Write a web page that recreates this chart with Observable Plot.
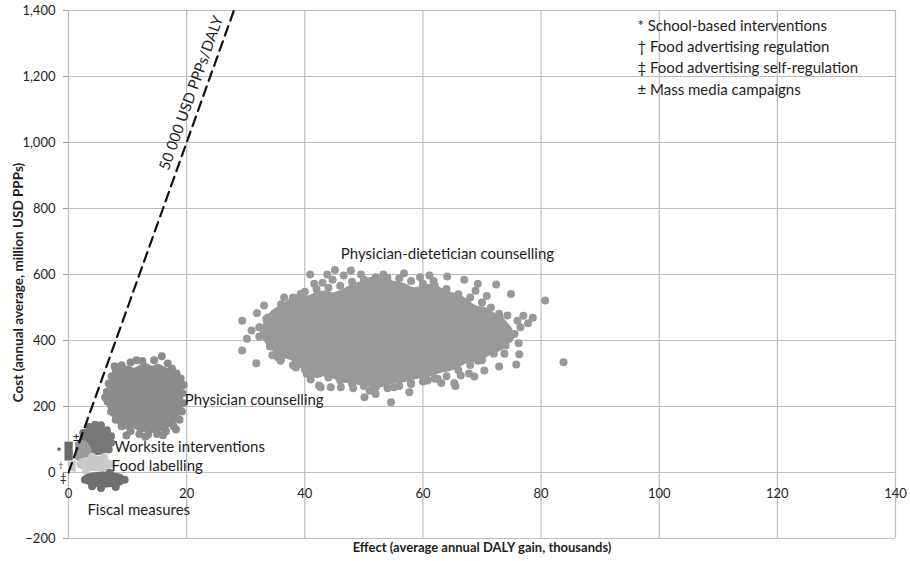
<!DOCTYPE html>
<html>
<head>
<meta charset="utf-8">
<script src="https://cdn.jsdelivr.net/npm/d3@7"></script>
<script src="https://cdn.jsdelivr.net/npm/@observablehq/plot@0.6"></script>
<style>
  html, body { margin: 0; padding: 0; background: #fff; }
  #chart { width: 910px; height: 561px; }
</style>
</head>
<body>
<div id="chart"></div>
<script>
// Axis ticks
const xTicks = [0, 20, 40, 60, 80, 100, 120, 140];
const yTicks = [-200, 0, 200, 400, 600, 800, 1000, 1200, 1400];

// Cost-effectiveness threshold: 50 000 USD PPPs per DALY
const thresholdEffect = [0, 28];
const thresholdCost = [0, 1400];

// Physician-dietetician counselling: dense core (effect, cost range) and scattered simulations
const pdCoreX  = [33, 34.5, 36, 37.5, 39, 40.5, 42, 43.5, 45, 46.5, 48, 49.5, 51, 52.5, 54, 55.5, 57, 58.5,
  60, 61.5, 63, 64.5, 66, 67.5, 69, 70.5, 72, 73.5, 75];
const pdCoreHi = [450, 490, 505, 525, 540, 535, 545, 550, 545, 555, 570, 578, 590, 592, 585, 578, 572, 560,
  565, 570, 560, 548, 540, 525, 505, 500, 485, 470, 440];
const pdCoreLo = [400, 370, 350, 340, 325, 300, 285, 290, 282, 272, 268, 262, 258, 255, 262, 270, 272, 280,
  285, 290, 300, 305, 315, 330, 335, 345, 360, 370, 400];
const pdX = [29.4, 30.2, 29.4, 31.8, 31.9, 33.1, 32.3, 32.3, 34.1, 35.4, 35.9, 34.5, 37.9, 39.3, 40.9, 41.6,
  43.8, 44.7, 46.6, 47.8, 45.1, 53.3, 56.8, 61.1, 64.1, 67.0, 69.3, 68.9, 72.4, 74.9, 80.7, 78.6, 76.0, 72.9,
  74.3, 74.6, 76.2, 76.3, 75.8, 83.8, 72.9, 70.4, 68.7, 66.4, 65.3, 63.1, 60.8, 58.0, 57.7, 55.1, 54.6, 52.0,
  50.1, 46.1, 44.4, 42.7, 42.4, 40.3, 39.3, 71.2, 72.4, 68.1, 69.3,
  36, 38, 40, 42, 44, 46, 48, 50, 52, 54, 56, 58, 60, 62, 64, 66, 68, 70, 71.5, 73,
  36, 38, 40, 42, 44, 46, 48, 50, 52, 54, 56, 58, 60, 62, 64, 66, 68, 70, 72, 74, 75.5,
  33, 33.5, 34, 73, 74.5, 75, 73.5, 71, 72, 70, 76.5, 77,
  31.0, 33.8, 36.8, 38.5, 43.0, 49.5, 51.0, 59.5, 62.5, 65.5, 67.8, 70.8, 73.8, 77.8, 36.5, 41.0, 48.2, 61.8];
const pdY = [460, 405, 370, 331, 483, 506, 440, 412, 382, 349, 339, 355, 521, 541, 600, 572,
  600, 584, 597, 612, 614, 600, 604, 597, 594, 584, 572, 551, 570, 541, 521, 469, 460, 481,
  476, 405, 392, 358, 327, 334, 321, 309, 291, 294, 271, 271, 279, 271, 243, 258, 213, 238,
  228, 258, 258, 258, 264, 299, 329, 395, 378, 364, 339,
  510, 530, 548, 555, 560, 566, 578, 585, 592, 590, 588, 580, 572, 566, 556, 540, 530, 515, 500, 470,
  345, 325, 312, 300, 288, 278, 268, 262, 258, 255, 262, 268, 276, 285, 292, 310, 326, 340, 360, 385, 420,
  420, 465, 400, 440, 430, 415, 400, 440, 420, 470, 440, 475,
  430, 470, 368, 318, 575, 600, 248, 592, 283, 262, 300, 535, 360, 452, 530, 282, 255, 580];

// Physician counselling
const pcCoreX  = [6.5, 7.3, 8.2, 9.2, 10.2, 11.2, 12.2, 13.2, 14.2, 15.2, 16.2, 17.2, 18.2, 19.0, 19.5];
const pcCoreHi = [250, 290, 305, 318, 322, 316, 325, 330, 322, 328, 320, 312, 300, 280, 245];
const pcCoreLo = [205, 170, 150, 135, 128, 132, 120, 122, 118, 126, 122, 138, 150, 175, 205];
const pcX = [15.8, 14.5, 12.5, 10.5, 9, 8, 7.3, 6.8, 6.5, 6.6, 7.2, 8, 9, 10.5, 12, 13.5, 15, 16.5, 17.8,
  18.8, 19.2, 19.4, 19.3, 19.5, 19, 18.3, 17.5, 16.8, 11.5, 17.5, 6.2, 9.8, 13.0, 16.0, 18.2, 7.8];
const pcY = [352, 340, 338, 333, 325, 310, 292, 270, 245, 215, 185, 160, 140, 125, 117, 115, 117, 125, 140,
  160, 185, 210, 240, 265, 285, 300, 315, 330, 340, 280, 228, 112, 108, 113, 130, 322];

// Worksite interventions
const wsCoreX  = [2.0, 3.0, 4.5, 6.0, 7.0, 7.4];
const wsCoreLo = [70, 55, 50, 55, 70, 85];
const wsCoreHi = [110, 130, 142, 138, 115, 100];
const wsX = [2.5, 3.5, 4.5, 5.5, 6.5, 7.2, 7.2, 6.8];
const wsY = [120, 138, 145, 143, 128, 110, 90, 70];

// Mass media campaigns
const mmCoreX  = [1.2, 2.2, 3.2, 4.0];
const mmCoreLo = [40, 25, 20, 30];
const mmCoreHi = [90, 98, 92, 70];

// School-based interventions
const sbCoreX  = [-0.6, 0.8];
const sbCoreLo = [35, 35];
const sbCoreHi = [92, 92];

// Food advertising regulation
const farCoreX  = [0, 1.3];
const farCoreLo = [5, 0];
const farCoreHi = [30, 35];

// Food labelling
const flCoreX  = [1.7, 2.5, 4, 5.5, 6.7, 7.3];
const flCoreLo = [15, 7, 3, 3, 7, 15];
const flCoreHi = [35, 43, 47, 48, 42, 32];
const flX = [2, 7.2, 4, 6, 3, 6];
const flY = [25, 25, 48, 46, 5, 5];

// Fiscal measures
const fmCoreX  = [2.6, 3.5, 5, 6.5, 8, 9.0, 9.6];
const fmCoreLo = [-32, -40, -46, -47, -45, -40, -30];
const fmCoreHi = [-12, -4, 0, 0, -2, -6, -14];
const fmX = [2.8, 9.5, 4, 8, 5.5, 7];
const fmY = [-22, -22, -42, -44, -47, -1];

// Labels
const thresholdLabel = "50 000 USD PPPs/DALY";
const legendLines = [
  "* School-based interventions",
  "\u2020 Food advertising regulation",
  "\u2021 Food advertising self-regulation",
  "\u00b1 Mass media campaigns"
];
const xTitle = "Effect (average annual DALY gain, thousands)";
const yTitle = "Cost (annual average, million USD PPPs)";

const core = (xs, lo, hi) => xs.map((x, i) => ({x, lo: lo[i], hi: hi[i]}));
const pts = (xs, ys) => xs.map((x, i) => ({x, y: ys[i]}));

const cloud = (xs, lo, hi, fill) =>
  Plot.areaY(core(xs, lo, hi), {x: "x", y1: "lo", y2: "hi", fill, curve: "catmull-rom"});
const dots = (xs, ys, fill) =>
  Plot.dot(pts(xs, ys), {x: "x", y: "y", r: 4, fill, stroke: "none"});

const font = "Lato, 'Open Sans', sans-serif";
const ink = "#1e1e1e";

const chart = Plot.plot({
  width: 910,
  height: 561,
  marginLeft: 68,
  marginRight: 15,
  marginTop: 10,
  marginBottom: 23,
  x: {domain: [0, 140], axis: null},
  y: {domain: [-200, 1400], axis: null},
  style: {fontFamily: font, fontSize: "15px", color: ink, background: "#fff"},
  marks: [
    Plot.ruleX(xTicks, {stroke: "#bdbdbd", strokeWidth: 1.2}),
    Plot.ruleY(yTicks, {stroke: "#bdbdbd", strokeWidth: 1.2}),
    Plot.axisY(yTicks, {tickSize: 5, tickPadding: 8, label: null, stroke: "#999", fill: ink, fontSize: 13}),
    Plot.text(xTicks, {x: d => d, y: 0, dy: 21, text: d => String(d), fill: ink, fontSize: 13}),

    // simulation clouds
    cloud(pdCoreX, pdCoreLo, pdCoreHi, "#999999"),
    dots(pdX, pdY, "#999999"),
    cloud(pcCoreX, pcCoreLo, pcCoreHi, "#8c8c8c"),
    dots(pcX, pcY, "#8c8c8c"),
    cloud(wsCoreX, wsCoreLo, wsCoreHi, "#787878"),
    dots(wsX, wsY, "#787878"),
    cloud(mmCoreX, mmCoreLo, mmCoreHi, "#9a9a9a"),
    cloud(sbCoreX, sbCoreLo, sbCoreHi, "#6a6a6a"),
    cloud(farCoreX, farCoreLo, farCoreHi, "#c6c6c6"),
    cloud(flCoreX, flCoreLo, flCoreHi, "#c9c9c9"),
    dots(flX, flY, "#c9c9c9"),
    cloud(fmCoreX, fmCoreLo, fmCoreHi, "#6f6f6f"),
    dots(fmX, fmY, "#6f6f6f"),

    // threshold line
    Plot.line(pts(thresholdEffect, thresholdCost), {x: "x", y: "y", stroke: "#111", strokeWidth: 2.2,
      strokeDasharray: "10,6", clip: true}),
    Plot.text([thresholdLabel], {x: 20.8, y: 1150, rotate: -70.3, fill: ink, fontSize: 15}),

    // cloud labels
    Plot.text(["Physician-dietetician counselling"], {x: 46.1, y: 663, textAnchor: "start", fill: ink}),
    Plot.text(["Physician counselling"], {x: 19.7, y: 218, textAnchor: "start", fill: ink}),
    Plot.text(["Worksite interventions"], {x: 7.8, y: 76, textAnchor: "start", fill: ink}),
    Plot.text(["Food labelling"], {x: 7.3, y: 18, textAnchor: "start", fill: ink}),
    Plot.text(["Fiscal measures"], {x: 3.2, y: -115, textAnchor: "start", fill: ink}),

    // footnote symbols marking the small clouds near the origin
    Plot.text(["*"], {x: -1.6, y: 60, fill: ink, fontSize: 13}),
    Plot.text(["\u2020"], {x: -1.3, y: 22, fill: ink, fontSize: 8}),
    Plot.text(["\u2021"], {x: -0.9, y: -18, fill: ink, fontSize: 12}),
    Plot.text(["\u00b1"], {x: 1.3, y: 108, fill: ink, fontSize: 12}),

    // legend of symbols
    Plot.text([legendLines.join("\n")], {frameAnchor: "top-left", dx: 569, dy: 5, lineAnchor: "top",
      textAnchor: "start", lineHeight: 1.42, fill: ink, fontSize: 15}),

    // axis titles
    Plot.text([xTitle], {frameAnchor: "bottom", dy: 13, textAnchor: "middle", fontWeight: "bold", fontSize: 13, fill: ink}),
    Plot.text([yTitle], {frameAnchor: "left", dx: -50, dy: 8, rotate: -90, textAnchor: "middle",
      fontWeight: "bold", fontSize: 13.5, fill: ink})
  ]
});

document.getElementById("chart").append(chart);
</script>
</body>
</html>
